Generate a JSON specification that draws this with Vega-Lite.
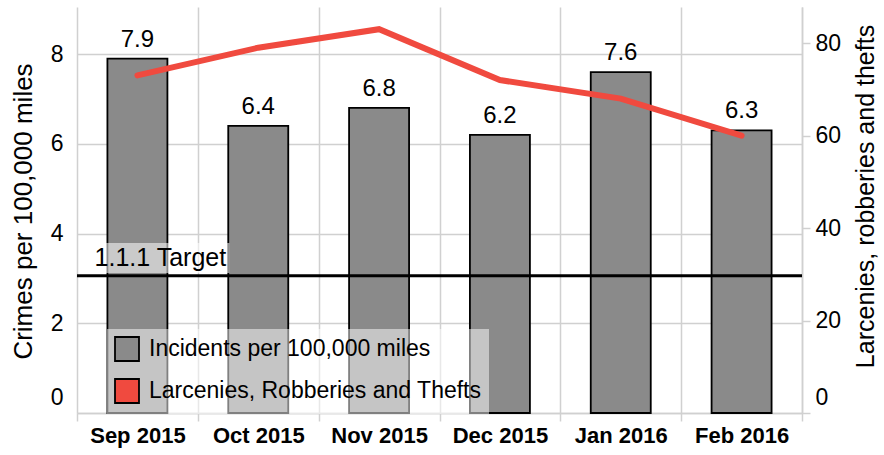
{
  "$schema": "https://vega.github.io/schema/vega-lite/v6.json",
  "width": 725,
  "height": 406,
  "autosize": "none",
  "padding": {"left": 77, "top": 7, "right": 82, "bottom": 42},
  "background": "white",
  "config": {
    "view": {"stroke": null},
    "font": "Liberation Sans",
    "axis": {"labelFont": "Liberation Sans", "titleFont": "Liberation Sans", "labelColor": "black", "titleColor": "black", "titleFontWeight": "normal"},
    "legend": {"labelFont": "Liberation Sans"}
  },
  "data": {
    "values": [
      {"month": "Sep 2015", "incidents": 7.9, "thefts": 73, "series": "Incidents per 100,000 miles"},
      {"month": "Oct 2015", "incidents": 6.4, "thefts": 79, "series": "Incidents per 100,000 miles"},
      {"month": "Nov 2015", "incidents": 6.8, "thefts": 83, "series": "Incidents per 100,000 miles"},
      {"month": "Dec 2015", "incidents": 6.2, "thefts": 72, "series": "Incidents per 100,000 miles"},
      {"month": "Jan 2016", "incidents": 7.6, "thefts": 68, "series": "Incidents per 100,000 miles"},
      {"month": "Feb 2016", "incidents": 6.3, "thefts": 60, "series": "Incidents per 100,000 miles"}
    ]
  },
  "encoding": {
    "x": {
      "field": "month", "type": "nominal", "sort": null,
      "scale": {"paddingInner": 0, "paddingOuter": 0},
      "axis": {
        "title": null, "labelAngle": 0, "labelFontSize": 22, "labelFontWeight": "bold",
        "labelPadding": 4, "tickBand": "extent", "grid": true, "gridColor": "#d0d0d0", "gridWidth": 1.5,
        "domain": true, "domainColor": "#d0d0d0", "domainWidth": 1.5,
        "ticks": true, "tickColor": "#d0d0d0", "tickSize": 8, "tickWidth": 1.5
      }
    }
  },
  "layer": [
    {
      "layer": [
        {
          "mark": {"type": "bar", "size": 60, "stroke": "black", "strokeWidth": 1.8},
          "encoding": {
            "y": {
              "field": "incidents", "type": "quantitative",
              "scale": {"domain": [0, 9.05], "nice": false, "zero": true},
              "axis": {
                "title": "Crimes per 100,000 miles", "values": [0, 2, 4, 6, 8],
                "grid": true, "gridColor": "#d0d0d0", "gridWidth": 1.5,
                "domain": false, "ticks": false, "labelPadding": 14, "labelFontSize": 23,
                "labelFlush": true, "labelFlushOffset": -4,
                "titleFontSize": 26, "titleX": -54, "titleY": 204, "titleAngle": 270,
                "titleAlign": "center", "titleBaseline": "middle"
              }
            },
            "color": {
              "field": "series", "type": "nominal",
              "scale": {"domain": ["Incidents per 100,000 miles", "Larcenies, Robberies and Thefts"], "range": ["#8a8a8a", "#f04a3f"]},
              "legend": {
                "title": null, "orient": "none", "legendX": 30, "legendY": 322,
                "fillColor": "rgba(255,255,255,0.5)", "padding": 7,
                "symbolType": "square", "symbolSize": 576, "symbolStrokeColor": "black",
                "symbolStrokeWidth": 1.8, "symbolOpacity": 1,
                "labelFontSize": 23, "labelColor": "black", "labelLimit": 400,
                "rowPadding": 10, "labelOffset": 9
              }
            }
          }
        },
        {
          "mark": {"type": "text", "fontSize": 24, "dy": -12, "baseline": "alphabetic", "color": "black"},
          "encoding": {
            "y": {"field": "incidents", "type": "quantitative"},
            "text": {"field": "incidents", "type": "quantitative", "format": ".1f"}
          }
        },
        {
          "data": {"values": [{"target": 3.06}]},
          "mark": {"type": "rule", "color": "black", "strokeWidth": 3},
          "encoding": {"x": null, "y": {"field": "target", "type": "quantitative"}}
        },
        {
          "data": {"values": [{"month": "Sep 2015", "top": 3.79, "bottom": 3.12}]},
          "mark": {"type": "bar", "size": 144, "xOffset": 20, "color": "white", "opacity": 0.55},
          "encoding": {
            "y": {"field": "top", "type": "quantitative"},
            "y2": {"field": "bottom"}
          }
        },
        {
          "data": {"values": [{"month": "Sep 2015", "target": 3.06, "label": "1.1.1 Target"}]},
          "mark": {"type": "text", "fontSize": 25, "dy": -10, "dx": 23, "align": "center", "baseline": "alphabetic", "color": "black"},
          "encoding": {
            "y": {"field": "target", "type": "quantitative"},
            "text": {"field": "label"}
          }
        }
      ]
    },
    {
      "mark": {"type": "line", "color": "#f04a3f", "strokeWidth": 6, "strokeCap": "round"},
      "encoding": {
        "y": {
          "field": "thefts", "type": "quantitative",
          "scale": {"domain": [0, 87.8], "nice": false},
          "axis": {
            "orient": "right", "title": "Larcenies, robberies and thefts", "values": [0, 20, 40, 60, 80],
            "grid": false, "domain": true, "domainColor": "#d0d0d0", "domainWidth": 1.5,
            "ticks": true, "tickColor": "#d0d0d0", "tickSize": 8, "tickWidth": 1.5,
            "labelPadding": 5, "labelFontSize": 23, "labelFlush": true, "labelFlushOffset": -4,
            "titleFontSize": 25, "titleX": 63, "titleY": 189, "titleAngle": 270,
            "titleAlign": "center", "titleBaseline": "middle"
          }
        }
      }
    }
  ],
  "resolve": {"scale": {"y": "independent"}}
}
